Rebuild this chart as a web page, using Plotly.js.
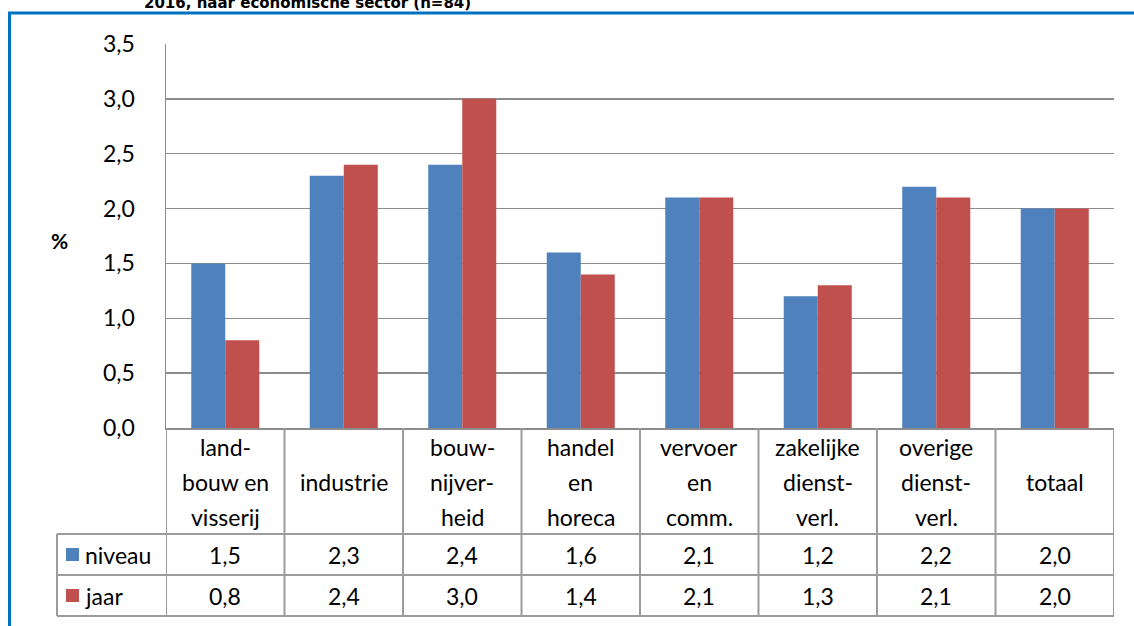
<!DOCTYPE html>
<html><head><meta charset="utf-8">
<script src="https://cdn.plot.ly/plotly-3.0.1.min.js"></script>
<style>html,body{margin:0;padding:0;background:#fff}#chart{width:1134px;height:626px}</style>
</head><body><div id="chart"></div>
<script>
const categories = ["land-\nbouw en\nvisserij","industrie","bouw-\nnijver-\nheid","handel\nen\nhoreca","vervoer\nen\ncomm.","zakelijke\ndienst-\nverl.","overige\ndienst-\nverl.","totaal"];
const seriesNames = ["niveau","jaar"];
const niveau = [1.5,2.3,2.4,1.6,2.1,1.2,2.2,2.0];
const jaar = [0.8,2.4,3.0,1.4,2.1,1.3,2.1,2.0];
const titleText = "2016, naar economische sector (n=84)";
const yLabel = "%";

const W=1134,H=626,L=166,R=1114,T=44,B=428;
const px = x => (x-L)/(R-L);
const py = y => (B-y)/(B-T);
const FONT = "Lato, 'Noto Sans', sans-serif";
const FS = 23;
const colors = ["#4F81BD","#C0504D"];
const gridCol = "#8c8c8c", tblCol = "#9c9c9c";
const idx = categories.map((c,i)=>i);
const fmt = v => v.toFixed(1).replace('.',',');

const traces = [niveau, jaar].map((vals,k)=>({
  type:'bar', x:idx, y:vals, name:seriesNames[k],
  marker:{color:colors[k], line:{width:0}}, hoverinfo:'skip'
}));

const shapes = [], annotations = [];
for(let i=0;i<=categories.length;i++){
  shapes.push({type:'line', xref:'x', yref:'paper', x0:i-0.5, x1:i-0.5, y0:0, y1:py(616), line:{color:tblCol,width:2}});
}
[534,575,616].forEach(y=>shapes.push({type:'line', xref:'paper', yref:'paper', x0:px(57), x1:1, y0:py(y), y1:py(y), line:{color:tblCol,width:2}}));
shapes.push({type:'line', xref:'paper', yref:'paper', x0:px(57), x1:px(57), y0:py(534), y1:py(616), line:{color:tblCol,width:2}});
const lineY = [447,482,517];
categories.forEach((c,i)=>{
  const lines = c.split('\n');
  const ys = lines.length===3 ? lineY : [482];
  lines.forEach((t,j)=>annotations.push({xref:'x', yref:'paper', x:i, y:py(ys[j]), text:t, showarrow:false, xanchor:'center', yanchor:'middle', font:{family:FONT,size:FS,color:'#000'}}));
});
const rowY = [555,596];
[niveau,jaar].forEach((vals,k)=>{
  vals.forEach((v,i)=>annotations.push({xref:'x', yref:'paper', x:i, y:py(rowY[k]), text:fmt(v), showarrow:false, xanchor:'center', yanchor:'middle', font:{family:FONT,size:FS,color:'#000'}}));
  shapes.push({type:'rect', xref:'paper', yref:'paper', x0:px(66), x1:px(79), y0:py(rowY[k]-7), y1:py(rowY[k]+6), fillcolor:colors[k], line:{width:0}});
  annotations.push({xref:'paper', yref:'paper', x:px(83), y:py(rowY[k]), text:seriesNames[k], showarrow:false, xanchor:'left', yanchor:'middle', font:{family:FONT,size:FS,color:'#000'}});
});
annotations.push({xref:'paper', yref:'paper', x:px(59), y:py(240), text:'<b>'+yLabel+'</b>', showarrow:false, xanchor:'center', yanchor:'middle', font:{family:FONT,size:21,color:'#000'}});
annotations.push({xref:'paper', yref:'paper', x:px(307), y:py(14), text:'<b>'+titleText+'</b>', showarrow:false, xanchor:'center', yanchor:'bottom', font:{family:"'DejaVu Sans', Verdana, sans-serif",size:15,color:'#000'}});
shapes.push({type:'line', xref:'paper', yref:'paper', x0:px(9.5), x1:px(9.5), y0:py(13), y1:py(640), line:{color:'#0070C0',width:3}});
shapes.push({type:'line', xref:'paper', yref:'paper', x0:px(8), x1:px(1140), y0:py(13), y1:py(13), line:{color:'#0070C0',width:3}});

const layout = {
  width:W, height:H, margin:{l:L, r:W-R, t:T, b:H-B, pad:0},
  paper_bgcolor:'#fff', plot_bgcolor:'#fff',
  barmode:'group', bargap:0.426, bargroupgap:0,
  showlegend:false, separators:',.',
  xaxis:{range:[-0.5,categories.length-0.5], showticklabels:false, ticks:'', showgrid:false, zeroline:false, showline:true, linecolor:gridCol, linewidth:1.5, fixedrange:true},
  yaxis:{range:[0,3.5], dtick:0.5, tickformat:'.1f', showgrid:true, gridcolor:gridCol, gridwidth:1.3, zeroline:false, showline:true, linecolor:gridCol, linewidth:1.5, ticks:'', ticklabelstandoff:25, tickfont:{family:FONT,size:FS,color:'#000'}, fixedrange:true},
  shapes:shapes, annotations:annotations, hovermode:false
};
Plotly.newPlot('chart', traces, layout, {displayModeBar:false, staticPlot:true});
</script></body></html>
